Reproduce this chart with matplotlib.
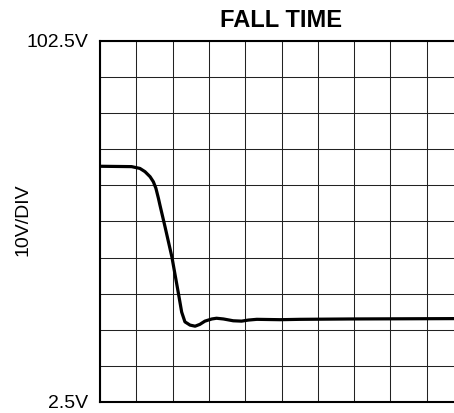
import numpy as np
import matplotlib
matplotlib.use("Agg")
import matplotlib.pyplot as plt

plt.rcParams['font.family'] = ['Liberation Sans', 'DejaVu Sans']

# ---- data (time in divisions, volts) ----
t_div = [0.0, 0.87, 1.10, 1.24, 1.38, 1.47, 1.54, 1.61, 1.65, 1.79, 1.98,
         2.16, 2.25, 2.34, 2.48, 2.62, 2.75, 2.89, 3.08, 3.21, 3.40, 3.67,
         3.90, 4.09, 4.32, 4.96, 5.51, 6.89, 9.75, 10.0]
volts = [67.8, 67.7, 67.2, 66.3, 64.9, 63.5, 61.7, 58.9, 57.1, 51.1, 42.7,
         32.6, 27.4, 24.7, 23.8, 23.5, 24.0, 24.9, 25.5, 25.7, 25.5, 25.0,
         24.9, 25.2, 25.4, 25.3, 25.4, 25.5, 25.6, 25.6]

y_min, y_max = 2.5, 102.5
y_labels = {2.5: "2.5V", 102.5: "102.5V"}

# ---- figure ----
W, H = 454, 413
fig = plt.figure(figsize=(W / 100, H / 100), dpi=100)
# axes runs past the right edge like the original (right border is cut off)
ax = fig.add_axes([100 / W, 11 / H, 363 / W, 361 / H])

ax.plot(t_div, volts, color='black', lw=2.3, solid_capstyle='round',
        solid_joinstyle='round', zorder=3)

ax.set_xlim(0, 10)
ax.set_ylim(y_min, y_max)

yt = np.arange(y_min, y_max + 1, 10)
ax.set_yticks(yt)
ax.set_yticklabels([y_labels.get(round(v, 1), "") for v in yt], fontsize=14)
ax.set_xticks(np.arange(0, 11, 1))
ax.set_xticklabels([])
ax.tick_params(length=0, pad=8.5)

ax.grid(True, color='#222222', lw=0.75)
ax.set_axisbelow(True)
for s in ax.spines.values():
    s.set_linewidth(1.5)
    s.set_color('black')

ax.set_title("FALL TIME", fontsize=17, fontweight='bold', pad=10)
fig.text(23 / W, 1 - 220 / H, "10V/DIV", rotation=90, ha='center', va='center', fontsize=14)

fig.savefig("out.png", dpi=100)
